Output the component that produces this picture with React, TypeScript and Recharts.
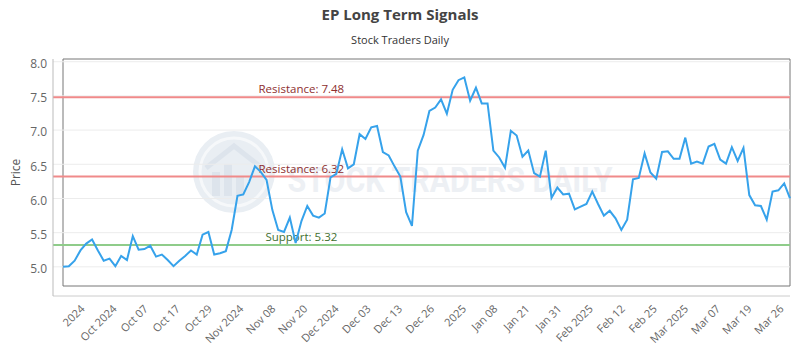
import React from 'react';
import { LineChart, Line, XAxis, YAxis, ReferenceLine, ReferenceArea } from 'recharts';

// daily closes
const prices = [
  5.0, 5.01, 5.09, 5.24, 5.34, 5.4, 5.24, 5.09, 5.12, 5.01,
  5.16, 5.1, 5.45, 5.25, 5.26, 5.31, 5.15, 5.18, 5.1, 5.01,
  5.09, 5.16, 5.24, 5.18, 5.47, 5.51, 5.18, 5.2, 5.23, 5.54,
  6.04, 6.06, 6.24, 6.47, 6.39, 6.27, 5.83, 5.54, 5.51, 5.72,
  5.35, 5.67, 5.89, 5.75, 5.72, 5.78, 6.31, 6.36, 6.72, 6.44,
  6.5, 6.94, 6.87, 7.04, 7.06, 6.68, 6.63, 6.47, 6.32, 5.8,
  5.6, 6.7, 6.93, 7.28, 7.33, 7.45, 7.24, 7.59, 7.73, 7.77,
  7.43, 7.62, 7.39, 7.39, 6.7, 6.6, 6.45, 6.99, 6.92, 6.61,
  6.7, 6.37, 6.32, 6.7, 6.01, 6.16, 6.06, 6.07, 5.84, 5.88,
  5.92, 6.1, 5.92, 5.75, 5.82, 5.71, 5.54, 5.69, 6.28, 6.3,
  6.66, 6.38, 6.29, 6.68, 6.69, 6.58, 6.58, 6.89, 6.51, 6.54,
  6.51, 6.76, 6.8, 6.57, 6.51, 6.75, 6.55, 6.74, 6.05, 5.9,
  5.89, 5.69, 6.1, 6.12, 6.22, 6.0,
];

const tickLabels = [
  '2024', 'Oct 2024', 'Oct 07', 'Oct 17', 'Oct 29', 'Nov 2024', 'Nov 08', 'Nov 20',
  'Dec 2024', 'Dec 03', 'Dec 13', 'Dec 26', '2025', 'Jan 08', 'Jan 21', 'Jan 31',
  'Feb 2025', 'Feb 12', 'Feb 25', 'Mar 2025', 'Mar 07', 'Mar 19', 'Mar 26',
];
const tickSpots = [
  2.9, 8.4, 13.8, 19.3, 24.8, 30.2, 35.7, 41.2, 46.6, 52.1, 57.5, 63.0,
  68.5, 73.9, 79.4, 84.9, 90.3, 95.8, 101.3, 106.7, 112.2, 117.6, 123.1,
];

const yTicks = [5, 5.5, 6, 6.5, 7, 7.5, 8];
const yMin = 4.72;
const yMax = 8.04;

const resistance = [7.48, 6.32];
const support = [5.32];

const data = prices.map((price, i) => ({ idx: i, price }));
const lastIdx = prices.length - 1;

const FONT = '"Open Sans", sans-serif';

const tickName = (v: number) => {
  const k = tickSpots.indexOf(v);
  return k >= 0 ? tickLabels[k] : '';
};

const levelLabel = (text: string, color: string) => (props: any) => {
  const vb = props.viewBox || {};
  return (
    <text
      x={vb.x + vb.width * 0.337}
      y={vb.y - 4}
      textAnchor="middle"
      fill={color}
      fontSize={11.5}
      fontFamily={FONT}
    >
      {text}
    </text>
  );
};

const PriceLabel = (props: any) => {
  const vb = props.viewBox || {};
  const cx = vb.x + 15;
  const cy = vb.y + vb.height / 2 - 5;
  return (
    <text
      x={cx}
      y={cy}
      transform={`rotate(-90, ${cx}, ${cy})`}
      textAnchor="middle"
      dominantBaseline="central"
      fill="#555"
      fontSize={12}
      fontFamily={FONT}
    >
      Price
    </text>
  );
};

const Watermark = () => (
  <svg width={800} height={350} style={{ position: 'absolute', left: 0, top: 0 }}>
    <circle cx={234} cy={172} r={41} fill="#e9eef3" />
    <circle cx={234} cy={172} r={34} fill="none" stroke="#f6f8fa" strokeWidth={3} />
    <rect x={212} y={172} width={8} height={24} fill="#dde4ec" />
    <rect x={224} y={164} width={8} height={32} fill="#dde4ec" />
    <rect x={236} y={176} width={8} height={20} fill="#dde4ec" />
    <path d="M206 168 L234 146 L262 168" fill="none" stroke="#dde4ec" strokeWidth={5} />
    <text
      x={450}
      y={192}
      textAnchor="middle"
      fontSize={35}
      fontWeight="bold"
      fontFamily="Roboto, sans-serif"
      fill="#edf0f4"
      textLength={325}
      lengthAdjust="spacingAndGlyphs"
    >
      STOCK TRADERS DAILY
    </text>
  </svg>
);

export default function App() {
  return (
    <div
      style={{
        position: 'absolute',
        left: 0,
        top: 0,
        width: 800,
        height: 350,
        background: '#fff',
        fontFamily: FONT,
      }}
    >
      <Watermark />
      <div
        style={{
          position: 'absolute',
          top: 4,
          width: 800,
          textAlign: 'center',
          fontSize: 15,
          fontWeight: 'bold',
          color: '#444',
        }}
      >
        EP Long Term Signals
      </div>
      <div
        style={{
          position: 'absolute',
          top: 32,
          width: 800,
          textAlign: 'center',
          fontSize: 11,
          color: '#333',
        }}
      >
        Stock Traders Daily
      </div>
      <div style={{ position: 'absolute', left: 0, top: 0 }}>
        <LineChart width={800} height={350} data={data} margin={{ top: 59, right: 10, bottom: 0, left: 0 }}>
          {yTicks.map((t) => (
            <ReferenceLine key={'g' + t} y={t} stroke="#ececec" strokeWidth={1} />
          ))}
          <XAxis
            dataKey="idx"
            type="number"
            domain={[0, lastIdx]}
            ticks={tickSpots}
            interval={0}
            tickFormatter={tickName}
            padding={{ left: 10, right: 0 }}
            height={54}
            angle={-45}
            textAnchor="end"
            tickLine={false}
            tickSize={6}
            tickMargin={2}
            axisLine={{ stroke: '#ccc' }}
            tick={{ fill: '#666', fontSize: 11, fontFamily: FONT }}
          />
          <YAxis
            type="number"
            domain={[yMin, yMax]}
            allowDataOverflow
            ticks={yTicks}
            tickFormatter={(v: number) => v.toFixed(1)}
            padding={{ top: 0, bottom: 10 }}
            width={53}
            tickLine={false}
            tickSize={4}
            tickMargin={2}
            axisLine={{ stroke: '#bbb' }}
            tick={{ fill: '#666', fontSize: 12, fontFamily: FONT, dy: 2 }}
            label={<PriceLabel />}
          />
          <ReferenceArea
            x1={0}
            x2={lastIdx}
            y1={yMin}
            y2={yMax}
            fill="none"
            stroke="#777"
            strokeWidth={1}
          />
          {resistance.map((r) => (
            <ReferenceLine
              key={'r' + r}
              y={r}
              stroke="#f08a8a"
              strokeWidth={2}
              label={levelLabel(`Resistance: ${r.toFixed(2)}`, '#8e2f2f')}
            />
          ))}
          {support.map((s) => (
            <ReferenceLine
              key={'s' + s}
              y={s}
              stroke="#8fcc8a"
              strokeWidth={2}
              label={levelLabel(`Support: ${s.toFixed(2)}`, '#3f6f2f')}
            />
          ))}
          <Line
            type="linear"
            dataKey="price"
            stroke="#36a2eb"
            strokeWidth={2}
            dot={false}
            isAnimationActive={false}
          />
        </LineChart>
      </div>
    </div>
  );
}
